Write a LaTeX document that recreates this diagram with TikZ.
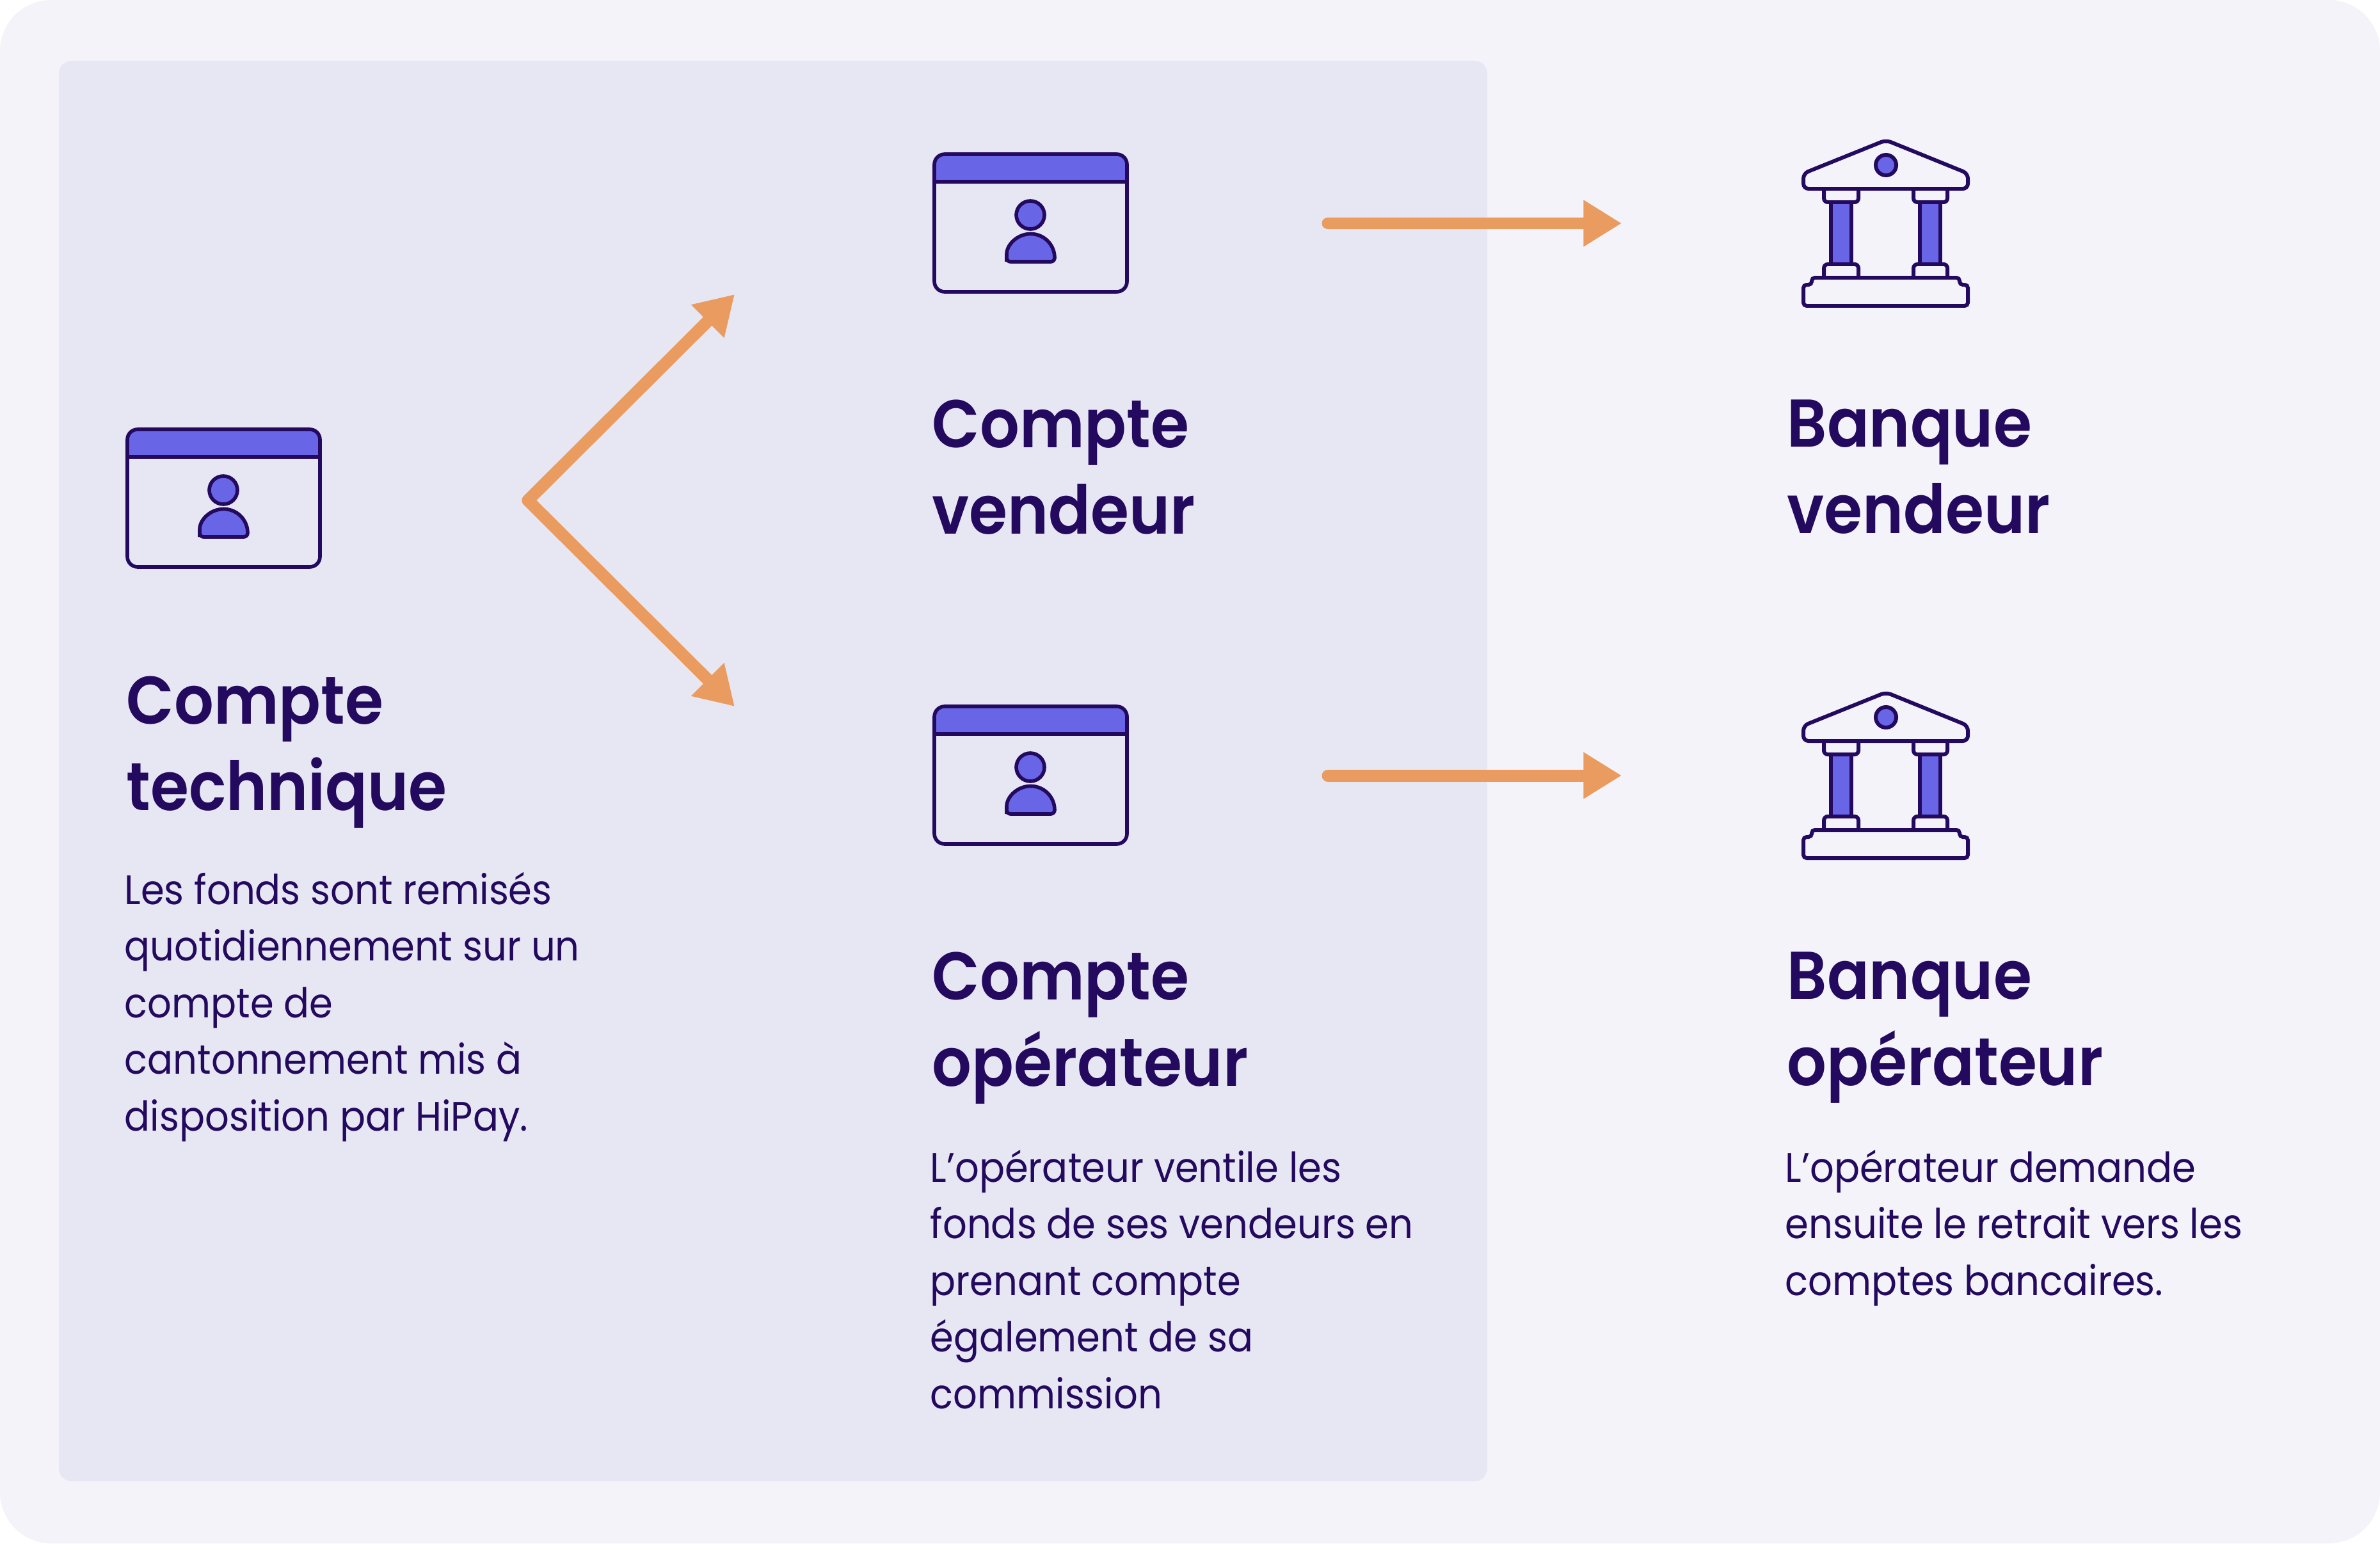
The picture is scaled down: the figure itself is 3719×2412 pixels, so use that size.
\documentclass[tikz,border=0pt]{standalone}
\usepackage{fontspec}
\setmainfont{Poppins}[FakeStretch=0.92,BoldFont={Poppins SemiBold}]
\usepackage{xcolor}
\usetikzlibrary{arrows.meta}
\definecolor{hpnavy}{RGB}{36,10,95}
\definecolor{hppurple}{RGB}{104,101,230}
\definecolor{hporange}{RGB}{234,155,95}
\definecolor{hpback}{RGB}{243,243,249}
\definecolor{hppanel}{RGB}{231,231,244}
\tikzset{
    x=0.01cm,y=-0.01cm,
    titre/.style={
        inner sep=0pt,anchor=north west,align=left,text=hpnavy,
        font=\fontsize{30}{38.4}\selectfont\bfseries
    },
    corps/.style={
        inner sep=0pt,anchor=north west,align=left,text=hpnavy,
        font=\fontsize{18.3}{25.2}\selectfont
    },
    fleche/.style={
        -{Triangle[length=17pt,width=19.6pt]},line width=5.4pt,
        line cap=round,draw=hporange
    },
    compte/.pic={
        \begin{scope}[draw=hpnavy,line width=1.6pt]
        \draw[fill=hppurple] (0,43) [rounded corners=.16cm] -- (0,0) -- (301,0)
            [sharp corners] -- (301,43) -- cycle;
        \draw[rounded corners=.16cm] (0,43) -- (0,215) -- (301,215) -- (301,43);
        \draw[fill=hppurple] (150,95) circle[radius=22];
        \draw[fill=hppurple] (113,162) arc[start angle=180,end angle=360,radius=37.5]
            [rounded corners=.06cm] -- (188,168) -- (113,168) -- cycle;
        \end{scope}
    },
    banque/.pic={
        \begin{scope}[draw=hpnavy,line width=1.7pt]
        % toit
        \draw[rounded corners=.08cm] (0,74) -- (0,50) -- (129,-2) -- (257,50)
            -- (257,74) -- cycle;
        \draw[fill=hppurple] (129,37) circle[radius=16];
        % colonnes
        \draw[fill=hppurple] (43,95) rectangle (75,192);
        \draw[fill=hppurple] (182,95) rectangle (214,192);
        \draw[rounded corners=.06cm] (32,74) -- (32,95) -- (86,95) -- (86,74);
        \draw[rounded corners=.06cm] (172,74) -- (172,95) -- (225,95) -- (225,74);
        \draw[rounded corners=.06cm] (32,213) -- (32,192) -- (86,192) -- (86,213);
        \draw[rounded corners=.06cm] (172,213) -- (172,192) -- (225,192) -- (225,213);
        % socle
        \draw[rounded corners=.05cm] (0,224) -- (13,224) -- (13,213) -- (244,213)
            -- (244,224) -- (257,224) -- (257,257) -- (0,257) -- cycle;
        \end{scope}
    }
}
\begin{document}
\begin{tikzpicture}
\useasboundingbox (0,0) rectangle (3719,2412);
\fill[white] (0,0) rectangle (3719,2412);
\fill[hpback,rounded corners=.8cm] (0,0) rectangle (3719,2412);
\fill[hppanel,rounded corners=.2cm] (92,95) rectangle (2324,2315);

\pic at (199,671) {compte};
\pic at (1460,241) {compte};
\pic at (1460,1104) {compte};
\pic at (2818,221) {banque};
\pic at (2818,1084) {banque};

\node[titre] (technique) at (197,1056) {Compte\\technique};
\node[corps] (technique texte) at (194,1362)
{Les fonds sont remisés\\quotidiennement sur un\\compte de\\cantonnement mis à\\disposition par HiPay.};

\node[titre] (vendeur) at (1456,624) {Compte\\vendeur};
\node[titre] (operateur) at (1456,1487) {Compte\\opérateur};
\node[corps] (operateur texte) at (1453,1796)
{L'opérateur ventile les\\fonds de ses vendeurs en\\prenant compte\\également de sa\\commission};

\node[titre] (banque vendeur) at (2792,624) {Banque\\vendeur};
\node[titre] (banque operateur) at (2792,1487) {Banque\\opérateur};
\node[corps] (banque texte) at (2789,1796)
{L'opérateur demande\\ensuite le retrait vers les\\comptes bancaires.};

\coordinate (fourche) at (825,782);
\coordinate (haut) at (1148,460);
\coordinate (bas) at (1148,1104);
\coordinate (vendeur depart) at (2075,349);
\coordinate (vendeur fin) at (2534,349);
\coordinate (operateur depart) at (2075,1212);
\coordinate (operateur fin) at (2534,1212);

\draw[fleche] (fourche) -- (haut);
\draw[fleche] (fourche) -- (bas);
\draw[fleche] (vendeur depart) -- (vendeur fin);
\draw[fleche] (operateur depart) -- (operateur fin);

\end{tikzpicture}
\end{document}
